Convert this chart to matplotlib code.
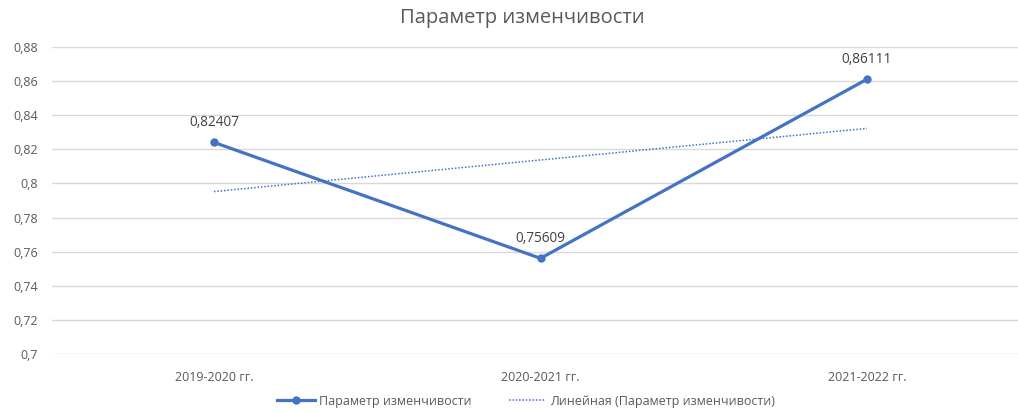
import numpy as np
import matplotlib
matplotlib.use("Agg")
import matplotlib.pyplot as plt
from matplotlib.ticker import FuncFormatter

categories = ["2019-2020 гг.", "2020-2021 гг.", "2021-2022 гг."]
values = [0.82407, 0.75609, 0.86111]
value_labels = ["0,82407", "0,75609", "0,86111"]
yticks = [0.70, 0.72, 0.74, 0.76, 0.78, 0.80, 0.82, 0.84, 0.86, 0.88]

plt.rcParams['font.family'] = ['Open Sans', 'DejaVu Sans']

W, H = 1018, 411
fig = plt.figure(figsize=(W / 100, H / 100), dpi=100)
ax = fig.add_axes([52 / W, 1 - 354 / H, (W - 52) / W, (354 - 47) / H])

x = np.arange(len(categories))
color = "#4472C4"
line, = ax.plot(x, values, color=color, lw=2.3, marker="o", ms=5,
                label="Параметр изменчивости", zorder=3)
coef = np.polyfit(x, values, 1)
trend = np.polyval(coef, x)
tline, = ax.plot(x, trend, color=color, lw=1.1, ls=(0, (1, 1.2)),
                 label="Линейная (Параметр изменчивости)", zorder=2)

for xi, v, lab in zip(x, values, value_labels):
    ax.annotate(lab, (xi, v), xytext=(0, 9), textcoords="offset points",
                ha="center", va="bottom", fontsize=9.8, color="#404040")

ax.set_ylim(0.70, 0.88)
ax.set_yticks(yticks)
ax.yaxis.set_major_formatter(FuncFormatter(
    lambda v, p: (("%.2f" % v).rstrip("0").rstrip(".")).replace(".", ",")))
ax.set_xlim(-(214 - 52) / 326.5, 2 + (W - 867) / 326.5)
ax.set_xticks(x)
ax.set_xticklabels(categories)
ax.grid(axis="y", color="#D9D9D9", lw=1)
ax.set_axisbelow(True)
for s in ax.spines.values():
    s.set_visible(False)
ax.tick_params(axis="both", length=0, labelsize=9, colors="#595959", pad=10)
ax.tick_params(axis="x", pad=12)

fig.text(522 / W, 1 - 18 / H, "Параметр изменчивости", ha="center", va="center",
         fontsize=14.5, color="#595959")

leg = fig.legend(handles=[line, tline], loc="center", bbox_to_anchor=(526 / W, 1 - 401 / H),
                 ncol=2, frameon=False, fontsize=9, handlelength=3, columnspacing=3,
                 handletextpad=0.3)
for t in leg.get_texts():
    t.set_color("#595959")

fig.savefig("out.png", dpi=100)
